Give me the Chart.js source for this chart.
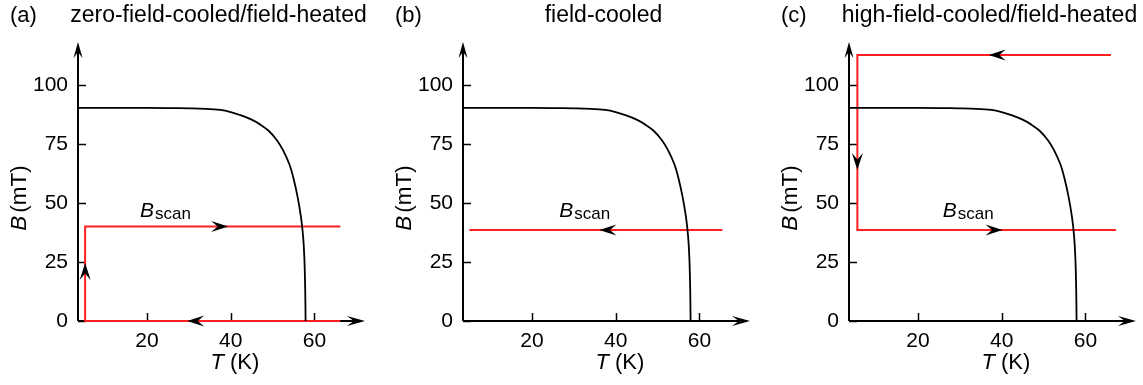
<!DOCTYPE html>
<html>
<head>
<meta charset="utf-8">
<script src="https://cdn.jsdelivr.net/npm/chart.js@4.4.1/dist/chart.umd.min.js"></script>
<style>
  body { margin: 0; background: #fff; }
  .panel { position: absolute; top: 0; height: 385px; }
</style>
</head>
<body>
<div class="panel" style="left:0;width:385px"><canvas id="chartA"></canvas></div>
<div class="panel" style="left:385px;width:386px"><canvas id="chartB"></canvas></div>
<div class="panel" style="left:771px;width:372px"><canvas id="chartC"></canvas></div>
<script>
// upper critical field line, shared by all three panels
var curveT = [3.4, 15, 25, 30, 34, 37.5, 40, 42.5, 45, 47, 49, 51, 52.5, 54, 55, 56, 56.8, 57.3, 57.6, 57.8, 57.9];
var curveB = [90.3, 90.3, 90.2, 90.1, 89.9, 89.4, 88.5, 87.1, 85.3, 83.3, 80.7, 76.7, 72.4, 66.5, 60.5, 52.5, 44.0, 36.0, 27.0, 14.0, 0];

var tTicks = [20, 40, 60];
var bTicks = [0, 25, 50, 75, 100];

// measurement protocols (red paths)
var pathA_T = [66.2, 5.2, 5.2, 66.2];
var pathA_B = [0, 0, 40, 40];
var pathB_T = [65.5, 5.0];
var pathB_B = [38.6, 38.6];
var pathC_T = [66.1, 5.5, 5.5, 67.3];
var pathC_B = [112.7, 112.7, 38.6, 38.6];

// arrowheads on the paths: tip position and direction
var arrowsA_T = [29.6, 5.2, 39.4];
var arrowsA_B = [0, 24.6, 40];
var arrowsA_dir = ["left", "up", "right"];
var arrowsB_T = [36.1];
var arrowsB_B = [38.6];
var arrowsB_dir = ["left"];
var arrowsC_T = [36.9, 5.5, 40.2];
var arrowsC_B = [112.7, 64, 38.6];
var arrowsC_dir = ["left", "down", "right"];

var FONT = "'Liberation Sans', Arial, Helvetica, sans-serif";
var ANGLES = { left: Math.PI, right: 0, up: -Math.PI / 2, down: Math.PI / 2 };

function zip(xs, ys) {
  return xs.map(function (x, i) { return { x: x, y: ys[i] }; });
}

// notched arrowhead with its tip at (x, y)
function arrowHead(ctx, x, y, angle, len, half) {
  ctx.save();
  ctx.translate(x, y);
  ctx.rotate(angle);
  ctx.beginPath();
  ctx.moveTo(0, 0);
  ctx.lineTo(-len, -half);
  ctx.lineTo(-len * 0.62, 0);
  ctx.lineTo(-len, half);
  ctx.closePath();
  ctx.fill();
  ctx.restore();
}

// italic symbol followed by plain text, starting at x
function italicThenPlain(ctx, x, y, it, plain, size, gap) {
  ctx.font = "italic " + size + "px " + FONT;
  ctx.fillText(it, x, y);
  var w = ctx.measureText(it).width;
  ctx.font = size + "px " + FONT;
  ctx.fillText(plain, x + w + gap, y);
}

function textWidth(ctx, it, plain, size, gap) {
  ctx.font = "italic " + size + "px " + FONT;
  var w = ctx.measureText(it).width;
  ctx.font = size + "px " + FONT;
  return w + gap + ctx.measureText(plain).width;
}

function makePanel(id, letter, title, pathT, pathB, arrT, arrB, arrDir, labelT, padRight) {
  var decor = {
    id: "decor",
    beforeDatasetsDraw: function (chart) {
      var ctx = chart.ctx, a = chart.chartArea;
      var xs = chart.scales.x, ys = chart.scales.y;
      ctx.save();
      ctx.strokeStyle = "#000";
      ctx.fillStyle = "#000";
      ctx.lineWidth = 2;
      ctx.beginPath();
      ctx.moveTo(a.left, a.bottom);
      ctx.lineTo(a.right - 8, a.bottom);
      ctx.moveTo(a.left, a.bottom);
      ctx.lineTo(a.left, a.top + 8);
      ctx.stroke();
      arrowHead(ctx, a.right, a.bottom, 0, 18, 5);
      arrowHead(ctx, a.left, a.top, -Math.PI / 2, 16, 4.5);
      // tick marks point into the plot
      ctx.lineWidth = 1.5;
      ctx.beginPath();
      tTicks.forEach(function (v) {
        var px = Math.round(xs.getPixelForValue(v)) + 0.5;
        ctx.moveTo(px, a.bottom);
        ctx.lineTo(px, a.bottom - 8);
      });
      bTicks.forEach(function (v) {
        var py = Math.round(ys.getPixelForValue(v)) + 0.5;
        ctx.moveTo(a.left, py);
        ctx.lineTo(a.left + 8, py);
      });
      ctx.stroke();
      ctx.restore();
    },
    afterDatasetsDraw: function (chart) {
      var ctx = chart.ctx;
      var xs = chart.scales.x, ys = chart.scales.y;
      ctx.save();
      ctx.fillStyle = "#000";
      arrT.forEach(function (t, i) {
        arrowHead(ctx, xs.getPixelForValue(t), ys.getPixelForValue(arrB[i]), ANGLES[arrDir[i]], 17, 5.5);
      });
      ctx.restore();
    },
    afterDraw: function (chart) {
      var ctx = chart.ctx, a = chart.chartArea;
      var xs = chart.scales.x, ys = chart.scales.y;
      ctx.save();
      ctx.fillStyle = "#000";
      ctx.textBaseline = "middle";
      // panel letter and title
      ctx.font = "22px " + FONT;
      ctx.textAlign = "left";
      ctx.fillText(letter, 10, 16);
      ctx.font = "23px " + FONT;
      ctx.textAlign = "center";
      ctx.fillText(title, (a.left + a.right) / 2 - 3, 16);

      // axis titles
      ctx.textAlign = "left";
      var w = textWidth(ctx, "T", " (K)", 22, 0);
      italicThenPlain(ctx, xs.getPixelForValue(41) - w / 2, 363, "T", " (K)", 22, 0);

      ctx.save();
      ctx.translate(20, 198);
      ctx.rotate(-Math.PI / 2);
      w = textWidth(ctx, "B", "(mT)", 22.5, 3);
      italicThenPlain(ctx, -w / 2, 0, "B", "(mT)", 22.5, 3);
      ctx.restore();

      // B_scan label
      ctx.textBaseline = "alphabetic";
      var lx = xs.getPixelForValue(labelT), ly = ys.getPixelForValue(47);
      ctx.font = "italic 21px " + FONT;
      ctx.fillText("B", lx, ly + 7);
      var bw = ctx.measureText("B").width;
      ctx.font = "17px " + FONT;
      ctx.fillText("scan", lx + bw + 1, ly + 9);
      ctx.restore();
    }
  };

  new Chart(document.getElementById(id), {
    type: "line",
    data: {
      datasets: [
        {
          data: zip(curveT, curveB),
          borderColor: "#000",
          borderWidth: 1.8,
          pointRadius: 0,
          tension: 0.35,
          clip: false
        },
        {
          data: zip(pathT, pathB),
          borderColor: "#ff1f1f",
          borderWidth: 2,
          pointRadius: 0,
          tension: 0,
          clip: false
        }
      ]
    },
    options: {
      responsive: true,
      maintainAspectRatio: false,
      animation: false,
      events: [],
      layout: { padding: { left: 33, top: 42, right: padRight, bottom: 0 } },
      plugins: { legend: { display: false }, tooltip: { enabled: false } },
      scales: {
        x: {
          type: "linear",
          min: 3.5,
          max: 72.1,
          grid: { display: false, drawTicks: false },
          border: { display: false },
          ticks: { color: "#000", padding: 8, font: { family: FONT, size: 21 } },
          afterBuildTicks: function (s) { s.ticks = tTicks.map(function (v) { return { value: v }; }); },
          afterFit: function (s) { s.height = 64; }
        },
        y: {
          type: "linear",
          min: 0,
          max: 118.2,
          grid: { display: false, drawTicks: false },
          border: { display: false },
          ticks: { color: "#000", padding: 10, font: { family: FONT, size: 21 } },
          afterBuildTicks: function (s) { s.ticks = bTicks.map(function (v) { return { value: v }; }); },
          afterFit: function (s) { s.width = 45; }
        }
      }
    },
    plugins: [decor]
  });
}

makePanel("chartA", "(a)", "zero-field-cooled/field-heated", pathA_T, pathA_B, arrowsA_T, arrowsA_B, arrowsA_dir, 18.3, 20);
makePanel("chartB", "(b)", "field-cooled", pathB_T, pathB_B, arrowsB_T, arrowsB_B, arrowsB_dir, 26.5, 21);
makePanel("chartC", "(c)", "high-field-cooled/field-heated", pathC_T, pathC_B, arrowsC_T, arrowsC_B, arrowsC_dir, 25.9, 7);
</script>
</body>
</html>
